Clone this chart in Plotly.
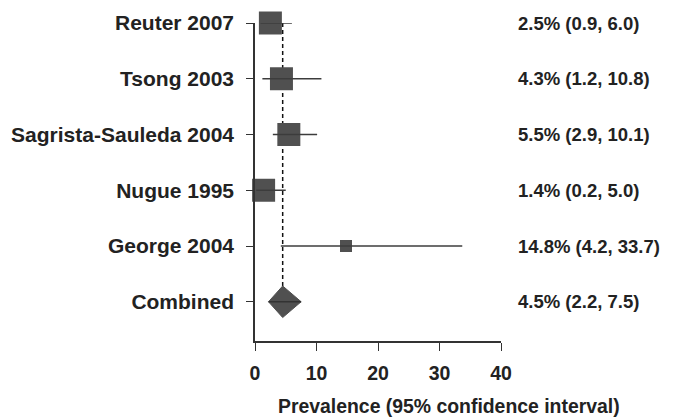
import plotly.graph_objects as go

# ---- data ----
studies = ["Reuter 2007", "Tsong 2003", "Sagrista-Sauleda 2004", "Nugue 1995", "George 2004"]
estimate = [2.5, 4.3, 5.5, 1.4, 14.8]
ci_low = [0.9, 1.2, 2.9, 0.2, 4.2]
ci_high = [6.0, 10.8, 10.1, 5.0, 33.7]
combined_label = "Combined"
combined_est = 4.5
combined_low = 2.2
combined_high = 7.5
x_ticks = [0, 10, 20, 30, 40]

# ---- style ----
FONT = "Liberation Sans, Arial, Helvetica, sans-serif"
TXT = "#222222"
BOX = "#505050"
LINE = "#3c3c3c"
box_sizes = [23, 23, 23, 23, 12]
diamond_half = 0.283

n = len(studies)
rows = list(range(n, 0, -1))  # study rows, top to bottom
comb_row = 0
labels_right = [f"{e}% ({lo}, {hi})" for e, lo, hi in zip(estimate, ci_low, ci_high)]
comb_right = f"{combined_est}% ({combined_low}, {combined_high})"

fig = go.Figure()

# reference dashed line at combined estimate
fig.add_trace(go.Scatter(
    x=[combined_est, combined_est], y=[rows[0], comb_row + diamond_half],
    mode="lines", line=dict(color="#111111", width=1.5, dash="4px,3px"),
    hoverinfo="skip", showlegend=False, cliponaxis=False))

# boxes
fig.add_trace(go.Scatter(
    x=estimate, y=rows, mode="markers",
    marker=dict(symbol="square", size=box_sizes, color=BOX, opacity=1, line=dict(width=0)),
    showlegend=False, cliponaxis=False))

# CI lines
for lo, hi, r in zip(ci_low, ci_high, rows):
    fig.add_trace(go.Scatter(
        x=[lo, hi], y=[r, r], mode="lines",
        line=dict(color=LINE, width=1.5), hoverinfo="skip",
        showlegend=False, cliponaxis=False))

# combined diamond
fig.add_trace(go.Scatter(
    x=[combined_low, combined_est, combined_high, combined_est, combined_low],
    y=[comb_row, comb_row + diamond_half, comb_row, comb_row - diamond_half, comb_row],
    mode="lines", fill="toself", fillcolor=BOX, line=dict(color=BOX, width=1),
    showlegend=False, cliponaxis=False))
fig.add_trace(go.Scatter(
    x=[combined_low, combined_high], y=[comb_row, comb_row], mode="lines",
    line=dict(color="#333333", width=1.5), showlegend=False, cliponaxis=False))

# right-side text
for txt, r in zip(labels_right + [comb_right], rows + [comb_row]):
    fig.add_annotation(
        x=1.062, xref="paper", y=r, yref="y", text=txt, showarrow=False,
        xanchor="left", yanchor="middle",
        font=dict(family=FONT, size=18.5, color=TXT, weight="bold"))

# axis title
fig.add_annotation(
    x=0.79, xref="paper", y=-(406.5 - 341) / 318.3, yref="paper",
    text="Prevalence (95% confidence interval)",
    showarrow=False, xanchor="center", yanchor="middle", borderpad=0,
    font=dict(family=FONT, size=19.4, color=TXT, weight="bold"))

# the page body has an 8px margin, so the figure is drawn 8px smaller and shifted
fig.update_layout(
    width=666, height=410,
    margin=dict(l=246.5, r=666 - 246.5 - 246.2, t=14.7, b=77, autoexpand=False),
    paper_bgcolor="white", plot_bgcolor="white",
    xaxis=dict(range=[0, 40], tickvals=x_ticks, ticks="outside", ticklen=8,
               tickwidth=1.3, tickcolor="#333333", showline=True, linecolor="#333333",
               linewidth=1.5, showgrid=False, zeroline=False, ticklabelstandoff=6,
               automargin=False,
               tickfont=dict(family=FONT, size=19.5, color=TXT, weight="bold")),
    yaxis=dict(range=[-0.704, n], tickvals=rows + [comb_row],
               ticktext=studies + [combined_label], ticks="outside", ticklen=7,
               tickwidth=1.3, tickcolor="#333333", showline=True, linecolor="#333333",
               linewidth=1.5, showgrid=False, zeroline=False, ticklabelstandoff=8,
               automargin=False,
               tickfont=dict(family=FONT, size=21, color=TXT, weight="bold")),
)

fig.write_html("out.html")
